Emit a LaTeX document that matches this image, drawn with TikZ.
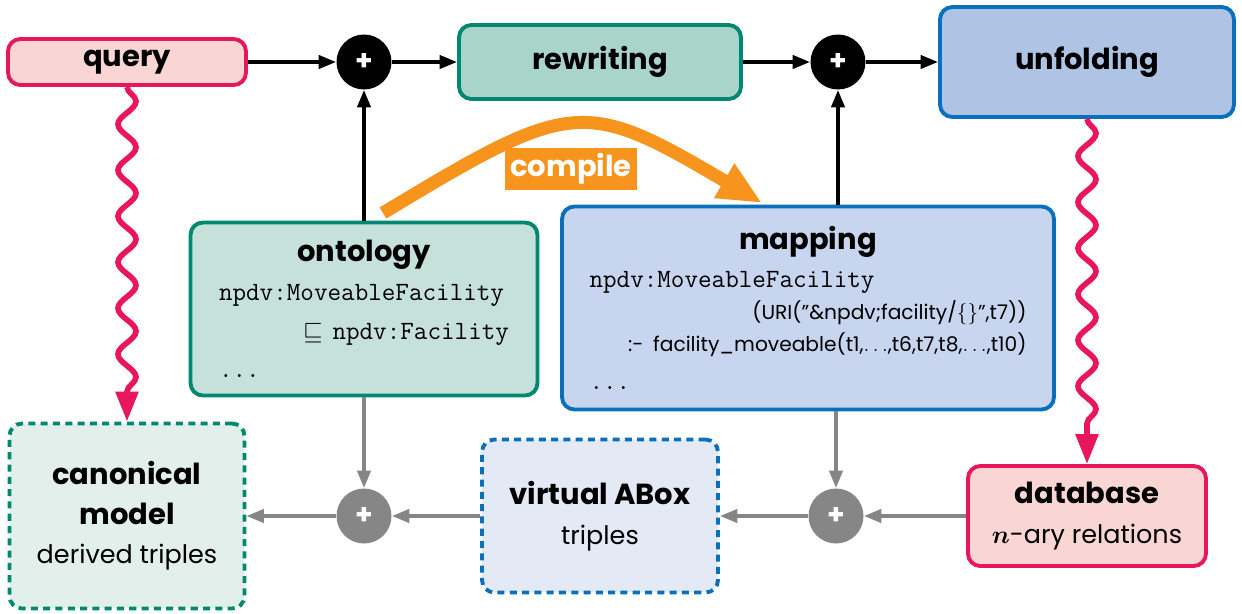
\documentclass[tikz,border=0pt]{standalone}
\usepackage{amsmath}
\usepackage{amssymb}
\usepackage{fontspec}
\setmainfont{Poppins}
\usetikzlibrary{arrows.meta,decorations.pathmorphing}

\definecolor{crimson}{HTML}{E8175D}
\definecolor{pinkfill}{HTML}{F9D5D3}
\definecolor{teal}{HTML}{00896F}
\definecolor{tealA}{HTML}{A9D4C9}
\definecolor{tealB}{HTML}{C5E1DA}
\definecolor{tealC}{HTML}{E2EFEB}
\definecolor{azure}{HTML}{0A70BD}
\definecolor{azureA}{HTML}{AFC3E5}
\definecolor{azureB}{HTML}{C8D5EE}
\definecolor{azureC}{HTML}{E3E9F5}
\definecolor{amber}{HTML}{F7941D}
\definecolor{ash}{HTML}{868686}

\newcommand{\ttl}{\fontsize{16.5}{22}\selectfont\bfseries}
\newcommand{\txt}{\fontsize{14.5}{22}\selectfont}
\newcommand{\code}{\fontsize{15}{22}\selectfont\ttfamily}

\tikzset{
  box/.style={draw, line width=2.2pt, rounded corners=7pt, align=center, inner sep=0pt,
    font=\fontsize{16.5}{22.5}\selectfont},
  pinkbox/.style={box, draw=crimson, fill=pinkfill},
  dashbox/.style={box, dash pattern=on 4pt off 3pt},
  plus/.style={circle, fill=black, text=white, minimum size=1.1cm, inner sep=0pt, font=\fontsize{16}{16}\selectfont\bfseries},
  greyplus/.style={plus, fill=ash},
  link/.style={-{Triangle[length=10pt,width=7.5pt]}, line width=2.1pt},
  greylink/.style={link, draw=ash},
  wave/.style={draw=crimson, line width=3.2pt, -{Triangle[length=17pt,width=12.5pt]},
    decorate, decoration={snake, amplitude=0.18cm, segment length=0.92cm, post length=0.5cm}},
}

\begin{document}
\begin{tikzpicture}[x=0.02cm, y=-0.02cm]
\useasboundingbox (0,0) rectangle (1242,613);

% top row
\node[pinkbox, minimum width=4.76cm, minimum height=0.92cm] (query) at (127,62) {\ttl query};
\node[plus] (plus1) at (364,62) {+};
\node[box, draw=teal, fill=tealA, minimum width=5.64cm, minimum height=1.48cm] (rewriting) at (600,62) {\ttl rewriting};
\node[plus] (plus2) at (838,62) {+};
\node[box, draw=azure, fill=azureA, minimum width=5.88cm, minimum height=2.2cm] (unfolding) at (1087,62) {\ttl unfolding};

% middle row
\node[box, draw=teal, fill=tealB, minimum width=6.94cm, minimum height=3.46cm, text width=5.8cm] (ontology) at (364,309)
  {{\ttl ontology\par}
   {\raggedright\code npdv:MoveableFacility\par}
   {\raggedleft\code $\sqsubseteq$ npdv:Facility\par}
   {\raggedright\code ...\par}};
\node[box, draw=azure, fill=azureB, minimum width=9.84cm, minimum height=4.06cm, text width=8.74cm] (mapping) at (808,308)
  {{\ttl mapping\par}
   {\raggedright\code npdv:MoveableFacility\par}
   {\raggedleft\fontsize{11.5}{18}\selectfont (URI(”\&npdv;facility/$\{\}$”,t7))\par
    :- facility\_moveable(t1,$\ldots$,t6,t7,t8,$\ldots$,t10)\par}
   {\raggedright\code ...\par}};

% bottom row
\node[dashbox, draw=teal, fill=tealC, minimum width=4.7cm, minimum height=3.7cm] (canonical) at (127,516)
  {\textbf{canonical}\\ \textbf{model}\\ {\txt derived triples}};
\node[greyplus] (plus3) at (364,516) {+};
\node[dashbox, draw=azure, fill=azureC, minimum width=4.72cm, minimum height=3.06cm] (virtual) at (600,516)
  {\textbf{virtual ABox}\\ {\txt triples}};
\node[greyplus] (plus4) at (836,516) {+};
\node[pinkbox, minimum width=4.76cm, minimum height=2.0cm] (database) at (1087,516)
  {\textbf{database}\\ {\txt {\boldmath$n$}-ary relations}};

% compile arrow
\coordinate (cfrom) at (383,213);
\coordinate (cto) at (762,203);
\draw[amber, line width=7.4pt, -{Triangle[length=25pt,width=21pt]}] (cfrom) .. controls (573,98) and (584,98) .. (cto);
\node[fill=amber, text=white, minimum width=2.66cm, minimum height=0.84cm, inner sep=0pt] (compile) at (571,169) {\ttl compile};

% black arrows
\draw[link] (query) -- (plus1);
\draw[link] (plus1) -- (rewriting);
\draw[link] (rewriting) -- (plus2);
\draw[link] (plus2) -- (unfolding);
\draw[link] (plus1 |- ontology.north) -- (plus1.south);
\draw[link] (plus2 |- mapping.north) -- (plus2.south);

% grey arrows
\draw[greylink] (plus3 |- ontology.south) -- (plus3.north);
\draw[greylink] (plus4 |- mapping.south) -- (plus4.north);
\draw[greylink] (database) -- (plus4);
\draw[greylink] (plus4) -- (virtual);
\draw[greylink] (virtual) -- (plus3);
\draw[greylink] (plus3) -- (canonical);

% wavy arrows
\draw[wave] (query.south) -- (query.south |- canonical.north);
\draw[wave] (unfolding.south) -- (unfolding.south |- database.north);
\end{tikzpicture}
\end{document}
